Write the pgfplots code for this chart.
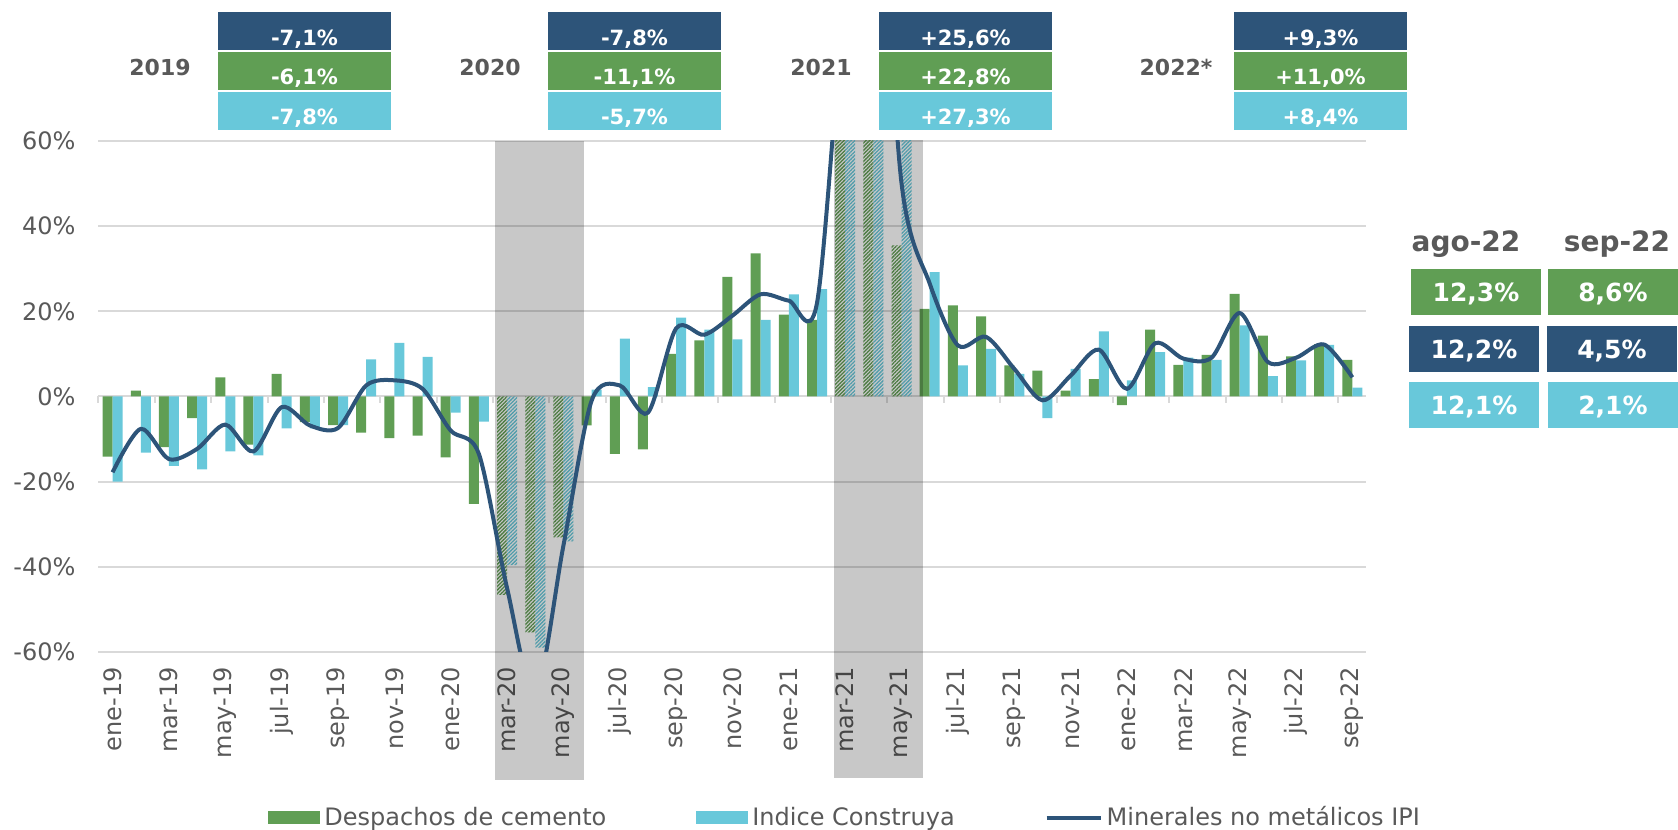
\documentclass[border=0pt]{standalone}
\usepackage{fontspec}
\setmainfont{DejaVu Sans}
\usepackage{pgfplots}
\usepackage{pgfplotstable}
\pgfplotsset{compat=1.18}
\usetikzlibrary{patterns.meta}

\definecolor{cgreen}{RGB}{96,158,84}
\definecolor{ccyan}{RGB}{104,200,218}
\definecolor{cblue}{RGB}{45,84,121}
\definecolor{ctext}{RGB}{89,89,89}
\definecolor{cgrid}{RGB}{217,217,217}

% variación anual (%), ene-19 = 0 ... sep-22 = 44
\pgfplotstableread{
i cem con
0 -14.1 -20.0
1 1.4 -13.2
2 -11.9 -16.3
3 -5.1 -17.1
4 4.5 -12.9
5 -11.3 -13.8
6 5.3 -7.5
7 -6.0 -7.5
8 -6.7 -6.7
9 -8.5 8.7
10 -9.8 12.6
11 -9.2 9.3
12 -14.3 -3.8
13 -25.2 -5.9
17 -6.8 1.6
18 -13.5 13.6
19 -12.4 2.2
20 10.0 18.5
21 13.2 15.7
22 28.1 13.4
23 33.6 18.0
24 19.2 24.0
25 18.0 25.2
29 20.6 29.2
30 21.4 7.3
31 18.8 11.2
32 7.3 5.3
33 6.1 -5.1
34 1.4 6.5
35 4.1 15.3
36 -2.0 3.8
37 15.7 10.4
38 7.4 9.1
39 9.8 8.6
40 24.1 16.7
41 14.3 4.8
42 9.4 8.5
43 12.3 12.1
44 8.6 2.1
}\solid

% meses de pandemia (barras achuradas)
\pgfplotstableread{
i cem con
14 -46.6 -39.6
15 -55.4 -59.0
16 -33.1 -34.0
26 90.0 85.0
27 120.0 130.0
28 35.5 70.0
}\hatched

\pgfplotstableread{
i ipi
0 -17.8
1 -7.6
2 -14.7
3 -12.3
4 -6.6
5 -12.9
6 -2.5
7 -6.8
8 -7.4
9 2.6
10 3.8
11 1.8
12 -8.0
13 -13.5
14 -45.0
15 -70.0
16 -35.0
17 -1.0
18 2.6
19 -3.8
20 16.0
21 14.5
22 19.0
23 24.0
24 22.5
25 22.0
26 95.0
27 135.0
28 50.0
29 26.5
30 12.0
31 14.0
32 6.5
33 -0.9
34 4.9
35 11.0
36 1.8
37 12.5
38 8.9
39 9.1
40 19.6
41 8.1
42 9.1
43 12.2
44 4.5
}\ipi

\newcommand\yearbox[5]{% left x, year, IPI, cemento, construya
  \fill[cblue] (#1pt,300.75pt) rectangle ++(86.5pt,19.25pt);
  \fill[cgreen] (#1pt,280.75pt) rectangle ++(86.5pt,19.25pt);
  \fill[ccyan] (#1pt,260.75pt) rectangle ++(86.5pt,19.25pt);
  \node[bx] at (#1pt+43.25pt,303pt) {#3};
  \node[bx] at (#1pt+43.25pt,283.5pt) {#4};
  \node[bx] at (#1pt+43.25pt,263.8pt) {#5};
  \node[yr] at (#1pt-29pt,288pt) {#2};
}

\begin{document}
\begin{tikzpicture}
\path[use as bounding box] (-49.25pt,-89pt) rectangle (789.75pt,326pt);
\begin{axis}[
  at={(0,0)}, anchor=south west,
  width=634pt, height=255.5pt, scale only axis,
  xmin=-0.5, xmax=44.5, ymin=-60, ymax=60,
  clip mode=individual,
  axis line style={draw=none},
  major tick length=0pt,
  xtick={0,2,...,44},
  xticklabels={ene-19,mar-19,may-19,jul-19,sep-19,nov-19,ene-20,mar-20,may-20,jul-20,sep-20,nov-20,ene-21,mar-21,may-21,jul-21,sep-21,nov-21,ene-22,mar-22,may-22,jul-22,sep-22},
  xticklabel style={rotate=90, anchor=east, font=\fontsize{12}{14}\selectfont, text=ctext},
  xticklabel shift=4pt,
  ytick={-60,-40,...,60},
  yticklabels={-60\%,-40\%,-20\%,0\%,20\%,40\%,60\%},
  yticklabel style={font=\fontsize{12}{14}\selectfont, text=ctext},
  yticklabel shift=8pt,
  ymajorgrids, grid style={cgrid, line width=1pt},
  legend columns=3,
  legend style={at={(0.1337,-0.3239)}, anchor=west, draw=none, fill=none, inner sep=0pt,
    font=\fontsize{12}{14}\selectfont, text=ctext,
    /tikz/every even column/.append style={column sep=43pt}},
]
\pgfplotsinvokeforeach{0,...,22}{
  \draw[cgrid, line width=1pt] (axis cs:{2*#1-0.5},0) -- ++(0pt,-3.5pt);
}
\addplot[ybar, bar width=5pt, bar shift=-2.5pt, fill=cgreen, draw=none,
  legend image code/.code={\fill[cgreen] (0pt,-3.25pt) rectangle (26pt,3.25pt);}]
  table[x=i, y=cem]{\solid};
\addlegendentry{Despachos de cemento}
\addplot[ybar, bar width=5pt, bar shift=2.5pt, fill=ccyan, draw=none,
  legend image code/.code={\fill[ccyan] (0pt,-3.25pt) rectangle (26pt,3.25pt);}]
  table[x=i, y=con]{\solid};
\addlegendentry{Indice Construya}
\addplot[forget plot, ybar, bar width=5pt, bar shift=-2.5pt, draw=none,
  pattern={Lines[angle=45,distance=1.3pt,line width=0.65pt]}, pattern color=cgreen]
  table[x=i, y=cem]{\hatched};
\addplot[forget plot, ybar, bar width=5pt, bar shift=2.5pt, draw=none,
  pattern={Lines[angle=45,distance=1.3pt,line width=0.65pt]}, pattern color=ccyan]
  table[x=i, y=con]{\hatched};
\fill[black, opacity=0.215] (axis cs:13.57,-90) rectangle (axis cs:16.73,60);
\fill[black, opacity=0.215] (axis cs:25.6,-89.5) rectangle (axis cs:28.75,60.3);
\addplot[cblue, line width=2pt, smooth, tension=0.5, mark=none,
  legend image code/.code={\draw[cblue, line width=2pt] (0pt,0pt) -- (27pt,0pt);}]
  table[x=i, y=ipi]{\ipi};
\addlegendentry{Minerales no metálicos IPI}
\end{axis}

% resumen anual
\tikzset{yr/.style={text=ctext, font=\bfseries\fontsize{11}{13}\selectfont, anchor=base},
         bx/.style={text=white, font=\bfseries\fontsize{10.5}{12}\selectfont, anchor=base}}
\yearbox{59.75}{2019}{-7,1\%}{-6,1\%}{-7,8\%}
\yearbox{224.75}{2020}{-7,8\%}{-11,1\%}{-5,7\%}
\yearbox{390.25}{2021}{+25,6\%}{+22,8\%}{+27,3\%}
\yearbox{567.75}{2022*}{+9,3\%}{+11,0\%}{+8,4\%}

% último dato mensual
\tikzset{hd/.style={text=ctext, font=\bfseries\fontsize{14}{16}\selectfont, anchor=base},
         rb/.style={text=white, font=\bfseries\fontsize{12.5}{14}\selectfont, anchor=base}}
\node[hd] at (683.75pt,200pt) {ago-22};
\node[hd] at (759.25pt,200pt) {sep-22};
\fill[cgreen] (656.25pt,168.5pt) rectangle (721.25pt,191.5pt);
\fill[cgreen] (724.75pt,168.5pt) rectangle (789.75pt,191.5pt);
\fill[cblue] (655.25pt,140pt) rectangle (720.25pt,163pt);
\fill[cblue] (724.25pt,140pt) rectangle (789.25pt,163pt);
\fill[ccyan] (655.25pt,112pt) rectangle (720.25pt,135pt);
\fill[ccyan] (724.75pt,112pt) rectangle (789.75pt,135pt);
\node[rb] at (688.75pt,175pt) {12,3\%};
\node[rb] at (757.25pt,175pt) {8,6\%};
\node[rb] at (687.75pt,146.5pt) {12,2\%};
\node[rb] at (756.75pt,146.5pt) {4,5\%};
\node[rb] at (687.75pt,118.5pt) {12,1\%};
\node[rb] at (757.25pt,118.5pt) {2,1\%};
\end{tikzpicture}
\end{document}
